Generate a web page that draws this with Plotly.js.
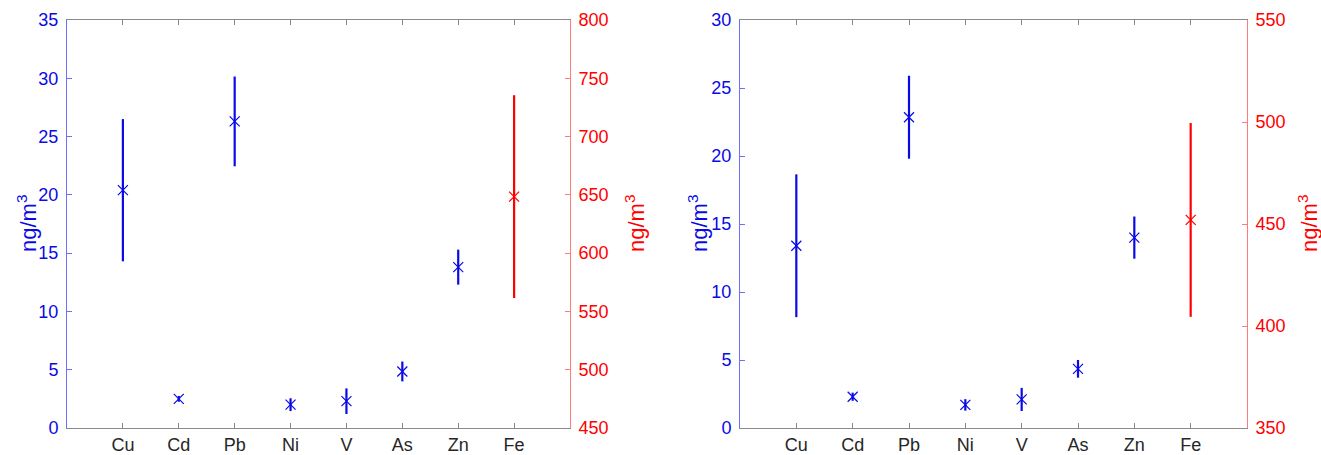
<!DOCTYPE html>
<html>
<head>
<meta charset="utf-8">
<script src="https://cdn.plot.ly/plotly-3.0.1.min.js"></script>
<style>html,body{margin:0;padding:0;background:#fff;}#chart{width:1321px;height:455px;}</style>
</head>
<body>
<div id="chart"></div>
<script>
// Categories (trace elements)
const elements = ["Cu", "Cd", "Pb", "Ni", "V", "As", "Zn"];
const ironLabel = ["Fe"];
const allCategories = ["Cu", "Cd", "Pb", "Ni", "V", "As", "Zn", "Fe"];

// Panel 1 (left axis 0-35, right axis 450-800)
const p1Mean = [20.4, 2.5, 26.3, 2.0, 2.3, 4.85, 13.8];
const p1Err  = [6.1, 0.25, 3.85, 0.55, 1.1, 0.85, 1.5];
const p1FeMean = [648.5];
const p1FeErr  = [87];

// Panel 2 (left axis 0-30, right axis 350-550)
const p2Mean = [13.4, 2.3, 22.85, 1.7, 2.1, 4.35, 14.0];
const p2Err  = [5.25, 0.3, 3.05, 0.42, 0.85, 0.65, 1.55];
const p2FeMean = [452];
const p2FeErr  = [47.5];

const unitLabel = "ng/m<sup>3</sup>";

const BLUE = "#0a0ae6";
const RED = "#ff0000";
const FONT = "Liberation Sans, Arial, Helvetica, sans-serif";

function trace(x, y, err, color, xa, ya) {
  return {
    type: "scatter", mode: "markers", x: x, y: y, xaxis: xa, yaxis: ya,
    marker: {symbol: "x-thin", size: 10, color: color, line: {color: color, width: 1.2}},
    error_y: {type: "data", array: err, visible: true, width: 0, thickness: 2.2, color: color},
    showlegend: false, hoverinfo: "x+y"
  };
}

const data = [
  trace(elements, p1Mean, p1Err, BLUE, "x", "y"),
  trace(ironLabel, p1FeMean, p1FeErr, RED, "x", "y2"),
  trace(elements, p2Mean, p2Err, BLUE, "x2", "y3"),
  trace(ironLabel, p2FeMean, p2FeErr, RED, "x2", "y4")
];

const yDom = [27/455, 435/455];
function xax(domain, anchor) {
  return {
    domain: domain, anchor: anchor, type: "category",
    categoryorder: "array", categoryarray: allCategories,
    range: [-1, 8], showgrid: false, zeroline: false,
    showline: true, linecolor: "#8a8a8a", linewidth: 1, mirror: "ticks",
    ticks: "inside", ticklen: 5, tickcolor: "#8a8a8a", tickwidth: 1,
    tickfont: {family: FONT, size: 18, color: "#262626"},
    ticklabelstandoff: 0
  };
}
function yax(range, dtick, color, lineColor, side, extra) {
  return Object.assign({
    range: range, dtick: dtick, tick0: 0, side: side,
    showgrid: false, zeroline: false, showline: true,
    linecolor: lineColor, linewidth: 1,
    ticks: "inside", ticklen: 5, tickcolor: lineColor, tickwidth: 1,
    tickfont: {family: FONT, size: 18, color: color},
    ticklabelstandoff: 4,
    automargin: false
  }, extra);
}
function titleAnn(xpx, color) {
  return {
    text: unitLabel, xref: "paper", yref: "paper",
    x: xpx / 1321, y: (455 - 224) / 455, xanchor: "center", yanchor: "middle",
    textangle: -90, showarrow: false,
    font: {family: FONT, size: 22, color: color}
  };
}

const layout = {
  width: 1321, height: 455,
  margin: {l: 0, r: 0, t: 0, b: 0},
  paper_bgcolor: "#ffffff", plot_bgcolor: "#ffffff",
  font: {family: FONT},
  xaxis: xax([67/1321, 570/1321], "y"),
  xaxis2: xax([740/1321, 1247/1321], "y3"),
  yaxis: yax([0, 35], 5, BLUE, "#6f6fff", "left", {domain: yDom, anchor: "x"}),
  yaxis2: yax([450, 800], 50, RED, "#ff7a7a", "right", {overlaying: "y", anchor: "x"}),
  yaxis3: yax([0, 30], 5, BLUE, "#6f6fff", "left", {domain: yDom, anchor: "x2"}),
  yaxis4: yax([350, 550], 50, RED, "#ff7a7a", "right", {overlaying: "y3", anchor: "x2"}),
  annotations: [
    titleAnn(27, BLUE), titleAnn(635, RED),
    titleAnn(698, BLUE), titleAnn(1308, RED)
  ]
};

Plotly.newPlot("chart", data, layout, {staticPlot: true, displayModeBar: false});
</script>
</body>
</html>
